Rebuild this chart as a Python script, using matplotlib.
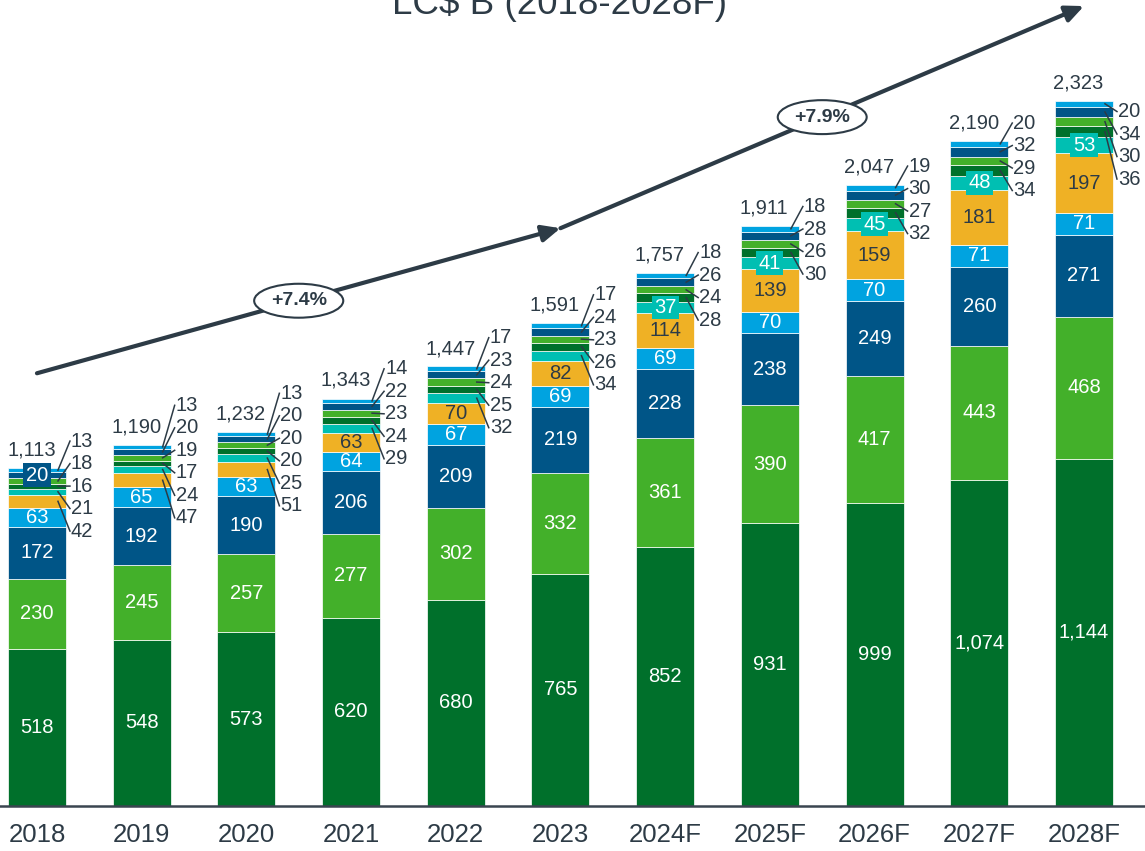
import matplotlib
matplotlib.use("Agg")
import matplotlib.pyplot as plt
import numpy as np

# data (LC$ B), segments listed bottom to top
years = ["2018", "2019", "2020", "2021", "2022", "2023",
         "2024F", "2025F", "2026F", "2027F", "2028F"]
seg1 = [518, 548, 573, 620, 680, 765, 852, 931, 999, 1074, 1144]
seg2 = [230, 245, 257, 277, 302, 332, 361, 390, 417, 443, 468]
seg3 = [172, 192, 190, 206, 209, 219, 228, 238, 249, 260, 271]
seg4 = [63, 65, 63, 64, 67, 69, 69, 70, 70, 71, 71]
seg5 = [42, 47, 51, 63, 70, 82, 114, 139, 159, 181, 197]
seg6 = [21, 24, 25, 29, 32, 34, 37, 41, 45, 48, 53]
seg7 = [16, 17, 20, 24, 25, 26, 28, 30, 32, 34, 36]
seg8 = [18, 19, 20, 23, 24, 23, 24, 26, 27, 29, 30]
seg9 = [20, 20, 20, 22, 23, 24, 26, 28, 30, 32, 34]
seg10 = [13, 13, 13, 14, 17, 17, 18, 18, 19, 20, 20]
totals = [1113, 1190, 1232, 1343, 1447, 1591, 1757, 1911, 2047, 2190, 2323]
cagr_labels = ["+7.4%", "+7.9%"]
cagr_spans = [(0, 5), (5, 10)]  # bar index range of each growth arrow

# how many bottom segments carry their label inside the bar
n_inside = [4, 4, 4, 5, 5, 5, 6, 6, 6, 6, 6]
boxed_extra = {(0, 8)}  # (year index, segment index) labelled inside with a box

DARK = "#2d3b46"
COLORS = ["#00702b", "#43b02a", "#005587", "#00a3e0", "#efb125",
          "#00bfb2", "#00702b", "#43b02a", "#005587", "#00a3e0"]
TEXT_ON = ["white", "white", "white", "white", DARK,
           "white", "white", "white", "white", "white"]

series = [seg1, seg2, seg3, seg4, seg5, seg6, seg7, seg8, seg9, seg10]
FONT = "Liberation Sans"

fig = plt.figure(figsize=(11.45, 8.51), dpi=100)
ax = fig.add_axes([0, 45 / 851, 1, 806 / 851])
ymax = 2656
ax.set_xlim(-0.353, 10.583)
ax.set_ylim(0, ymax)

x = np.arange(len(years))
width = 0.554
px_y = ymax / 806.0               # data units per pixel (y)
px_x = (10.583 + 0.353) / 1145.0  # data units per pixel (x)

bottoms = np.zeros(len(years))
for k, vals in enumerate(series):
    ax.bar(x, vals, width, bottom=bottoms, color=COLORS[k],
           edgecolor="white", linewidth=0.5, zorder=2)
    bottoms += np.array(vals)

# segment labels
for i in range(len(years)):
    vals = [s[i] for s in series]
    cum = np.cumsum([0] + vals)
    centers = (cum[:-1] + cum[1:]) / 2
    outside = []
    for k in range(len(series)):
        boxed = (k == 5 and n_inside[i] >= 6) or (i, k) in boxed_extra
        if k < n_inside[i] or (i, k) in boxed_extra:
            kw = {}
            if boxed:
                kw["bbox"] = dict(boxstyle="square,pad=0.12", fc=COLORS[k], ec="none")
            ax.text(x[i], centers[k], f"{vals[k]:,}", ha="center", va="center",
                    fontsize=14.5, color=TEXT_ON[k], family=FONT, zorder=4, **kw)
        else:
            outside.append(k)
    if outside:
        mid = np.mean([centers[k] for k in outside])
        if i == len(years) - 1:
            mid -= 28 * px_y  # last stack pushed down, clear of the total
        step = 22.5 * px_y
        n = len(outside)
        lx = x[i] + width / 2 + 5 * px_x
        for j, k in enumerate(outside):
            ly = mid + (j - (n - 1) / 2) * step
            ax.plot([x[i] + width / 2 - 8 * px_x, lx - 1 * px_x],
                    [centers[k], ly], color=DARK, lw=1.1, zorder=5)
            ax.text(lx, ly, f"{vals[k]:,}", ha="left", va="center",
                    fontsize=14.5, color=DARK, family=FONT, zorder=5)

# totals
for i, t in enumerate(totals):
    ax.annotate(f"{t:,}", (x[i], t), xytext=(-4, 13), textcoords="offset points",
                ha="center", va="center", fontsize=14.5, color=DARK, family=FONT)

# growth arrows, drawn ~95 px above the bar tops they span
gap = 313
for (a, b), lab in zip(cagr_spans, cagr_labels):
    y0 = totals[a] + gap
    y1 = totals[b] + gap
    ax.annotate("", xy=(x[b], y1), xytext=(x[a], y0),
                arrowprops=dict(arrowstyle="-|>,head_length=1.1,head_width=0.5",
                                color=DARK, lw=3, shrinkA=0, shrinkB=0),
                zorder=6, annotation_clip=False)
    ax.text((x[a] + x[b]) / 2, (y0 + y1) / 2, lab, ha="center", va="center",
            fontsize=14, fontweight="bold", color=DARK, family=FONT, zorder=7,
            bbox=dict(boxstyle="ellipse,pad=0.18", fc="white", ec=DARK, lw=1.5))

# axes styling
for s in ["top", "right", "left"]:
    ax.spines[s].set_visible(False)
ax.spines["bottom"].set_color("#3a4550")
ax.spines["bottom"].set_linewidth(1.8)
ax.set_yticks([])
ax.set_xticks(x)
ax.set_xticklabels(years, fontsize=18.5, color=DARK, family=FONT)
ax.tick_params(axis="x", length=0, pad=12)

fig.text(560 / 1145, 1 - 14 / 851, "LC$ B (2018-2028F)", ha="center", va="baseline",
         fontsize=26.5, color=DARK, family=FONT)

fig.savefig("out.png", dpi=100, facecolor="white")
